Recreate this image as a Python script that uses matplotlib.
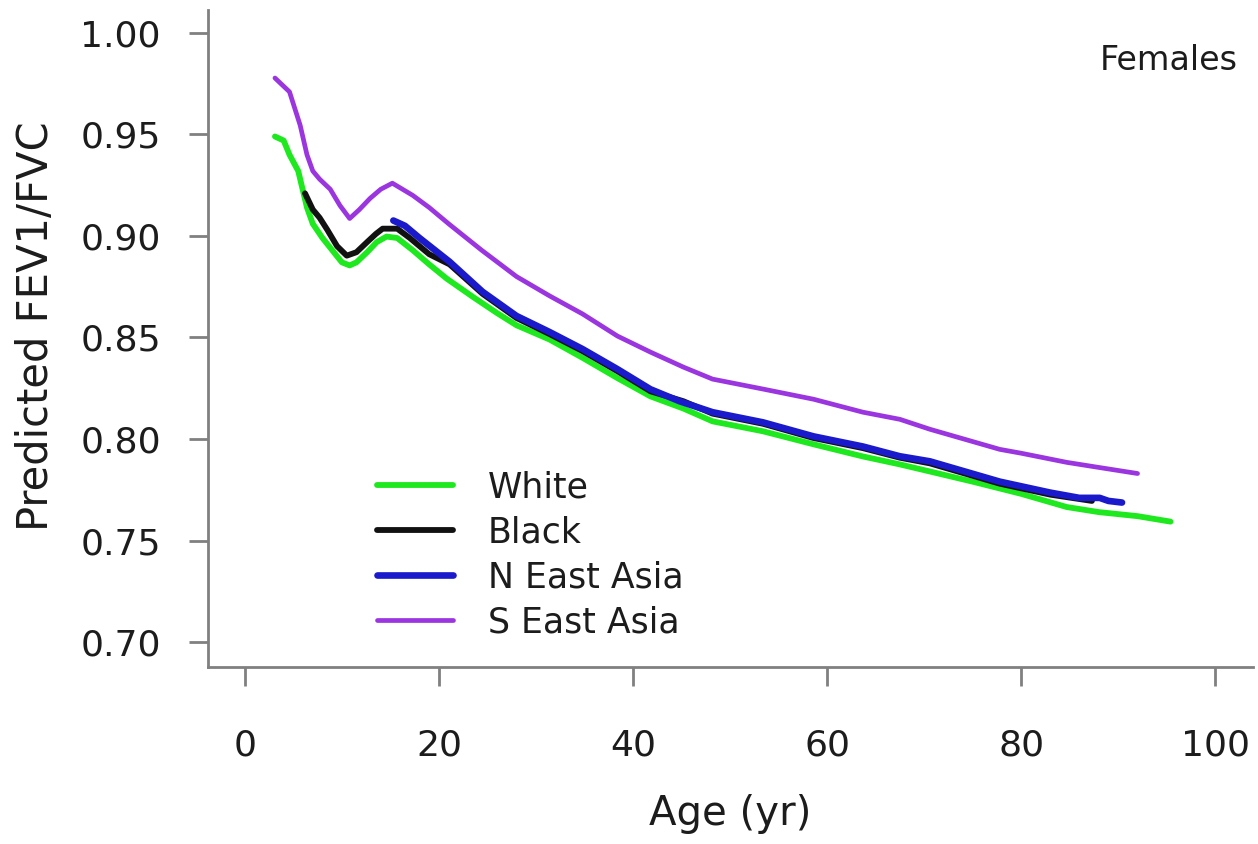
import matplotlib
matplotlib.use("Agg")
import matplotlib.pyplot as plt

# values
white_age = [3.1, 4.0, 4.6, 5.5, 6.4, 7.0, 8.0, 9.0, 10.0, 10.8, 11.5, 12.6, 13.6, 14.6,
             15.7, 17.3, 19.0, 20.8, 23.5, 26.0, 28.0, 31.4, 34.8, 38.4, 41.8, 45.2,
             48.2, 53.4, 58.6, 63.7, 67.5, 70.6, 75.0, 80.0, 84.7, 88.0, 92.0, 95.4]
white_val = [0.949, 0.947, 0.940, 0.932, 0.914, 0.906, 0.899, 0.893, 0.887, 0.8855, 0.887,
             0.892, 0.897, 0.8997, 0.899, 0.893, 0.886, 0.879, 0.870, 0.862, 0.856, 0.849,
             0.840, 0.830, 0.821, 0.815, 0.8087, 0.8038, 0.7974, 0.7914, 0.7875, 0.784,
             0.779, 0.773, 0.7665, 0.764, 0.762, 0.7593]

black_age = [6.2, 7.0, 7.7, 8.5, 9.5, 10.5, 11.5, 12.6, 13.5, 14.2, 15.7, 17.0, 19.0,
             21.1, 24.5, 28.0, 31.4, 34.8, 38.4, 41.8, 45.2, 48.2, 53.4, 58.6, 63.7,
             67.5, 70.6, 77.8, 83.0, 87.3]
black_val = [0.921, 0.913, 0.909, 0.903, 0.895, 0.8903, 0.892, 0.897, 0.901, 0.9036, 0.9036,
             0.899, 0.891, 0.886, 0.8715, 0.8596, 0.8517, 0.8433, 0.8334, 0.8235, 0.8186,
             0.8125, 0.8075, 0.8005, 0.7955, 0.7908, 0.788, 0.778, 0.7726, 0.7695]

neasia_age = [15.3, 16.5, 18.0, 21.1, 24.5, 28.0, 31.4, 34.8, 38.4, 41.8, 44.8, 48.2,
              53.4, 58.6, 63.7, 67.5, 70.6, 77.8, 83.0, 86.0, 88.1, 89.0, 90.4]
neasia_val = [0.9076, 0.905, 0.899, 0.8873, 0.8725, 0.8606, 0.8527, 0.8443, 0.8344, 0.8245,
              0.8186, 0.8132, 0.8082, 0.8013, 0.7963, 0.7915, 0.789, 0.779, 0.7736, 0.771,
              0.771, 0.7695, 0.7687]

seasia_age = [3.1, 4.6, 5.7, 6.4, 7.0, 7.7, 8.8, 9.8, 10.8, 11.8, 12.9, 14.0, 15.2, 17.3,
              19.0, 21.0, 24.4, 28.0, 31.4, 34.8, 38.4, 41.8, 45.2, 48.2, 53.4, 58.6,
              63.7, 67.5, 70.6, 77.8, 80.0, 84.7, 88.0, 92.0]
seasia_val = [0.9778, 0.971, 0.9545, 0.940, 0.932, 0.928, 0.923, 0.915, 0.9086, 0.913,
              0.9185, 0.923, 0.926, 0.920, 0.914, 0.906, 0.893, 0.880, 0.8705, 0.8616,
              0.8507, 0.8428, 0.8354, 0.8295, 0.8246, 0.8196, 0.8132, 0.8097, 0.8048,
              0.7949, 0.793, 0.7885, 0.786, 0.783]

labels = ["White", "Black", "N East Asia", "S East Asia"]
x_ticks = [0, 20, 40, 60, 80, 100]
y_ticks = [0.70, 0.75, 0.80, 0.85, 0.90, 0.95, 1.00]

W, H = 1258, 844
txt = "#1c1c1c"
fig = plt.figure(figsize=(W / 100, H / 100), dpi=100)
ax = fig.add_axes([208 / W, 1 - 667 / H, (1253 - 208) / W, (667 - 10) / H])

line_kw = dict(solid_capstyle="round", solid_joinstyle="round")
ax.plot(white_age, white_val, color="#1ee81e", lw=4.2, label=labels[0], **line_kw)
ax.plot(black_age, black_val, color="#111111", lw=4.2, label=labels[1], **line_kw)
ax.plot(neasia_age, neasia_val, color="#1a1acc", lw=4.8, label=labels[2], **line_kw)
ax.plot(seasia_age, seasia_val, color="#9a35e0", lw=3.4, label=labels[3], **line_kw)

ax.set_xlim(-3.8, 103.9)
ax.set_ylim(0.6877, 1.0113)
ax.set_xticks(x_ticks)
ax.set_yticks(y_ticks)
ax.set_xticklabels([str(t) for t in x_ticks])
ax.set_yticklabels([f"{t:.2f}" for t in y_ticks])

for s in ["top", "right"]:
    ax.spines[s].set_visible(False)
for s in ["left", "bottom"]:
    ax.spines[s].set_color("#808080")
    ax.spines[s].set_linewidth(2)

ax.tick_params(axis="both", direction="out", length=14, width=2, color="#808080",
               labelsize=26, labelcolor=txt)
ax.tick_params(axis="x", pad=30)
ax.tick_params(axis="y", pad=20)

fig.text(730 / W, 1 - 814 / H, "Age (yr)", ha="center", va="center",
         fontsize=29, color=txt)
fig.text(36 / W, 1 - 326 / H, "Predicted FEV1/FVC", ha="center", va="center",
         rotation=90, fontsize=30, color=txt)
fig.text(1238 / W, 1 - 60 / H, "Females", ha="right", va="center",
         fontsize=24, color=txt)

leg = ax.legend(loc="upper left", bbox_to_anchor=(377 / W, 1 - 470 / H),
                bbox_transform=fig.transFigure, frameon=False, fontsize=25,
                handlelength=2.2, handletextpad=1.0, labelspacing=0.32,
                borderpad=0, borderaxespad=0)
for t in leg.get_texts():
    t.set_color(txt)

fig.savefig("out.png", dpi=100)
